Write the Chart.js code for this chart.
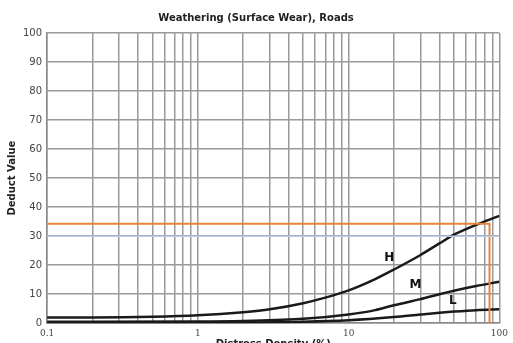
<!DOCTYPE html>
<html>
<head>
<meta charset="utf-8">
<script src="https://cdn.jsdelivr.net/npm/chart.js@4.4.1/dist/chart.umd.min.js"></script>
<style>
    html, body { margin: 0; padding: 0; background: #fff; }
    #wrap { width: 513px; height: 343px; }
</style>
</head>
<body>
<div id="wrap"><canvas id="chart" width="513" height="343"></canvas></div>
<script>
// Distress density (%) sample points and deduct values
const densityH = [0.1, 0.2, 0.5, 1, 2, 3, 5, 7, 10, 15, 20, 30, 40, 50, 60, 70, 80, 100];
const valuesH  = [2.0, 2.0, 2.2, 2.7, 3.8, 4.8, 6.9, 8.8, 11.3, 15.2, 18.5, 23.5, 27.5, 30.5, 32.4, 33.9, 35.1, 37.0];

const densityM = [0.1, 1, 2, 5, 10, 15, 20, 30, 40, 50, 70, 100];
const valuesM  = [0.5, 0.6, 0.8, 1.5, 3.0, 4.5, 6.2, 8.3, 10.0, 11.2, 12.8, 14.3];

const densityL = [0.1, 1, 5, 10, 20, 30, 40, 50, 70, 100];
const valuesL  = [0.0, 0.1, 0.5, 1.0, 2.1, 3.0, 3.6, 4.0, 4.5, 4.8];

// Reading lines (orange) and the faint blue reference line
const readDensity = 86;
const readValue = 34.3;
const blueValue = 30;

// Curve labels
const curveNames = ['H', 'M', 'L'];
const curveLabelX = [18.6, 27.8, 49];
const curveLabelY = [22.4, 13.1, 7.6];

// Axis ticks
const xTicks = [0.1, 0.2, 0.3, 0.4, 0.5, 0.6, 0.7, 0.8, 0.9, 1, 2, 3, 4, 5, 6, 7, 8, 9, 10, 20, 30, 40, 50, 60, 70, 80, 90, 100];
const xTickLabels = { 0.1: '0.1', 1: '1', 10: '10', 100: '100' };

const toPoints = (xs, ys) => xs.map((x, i) => ({ x, y: ys[i] }));

const curveLabels = {
    id: 'curveLabels',
    afterDatasetsDraw(chart) {
        const { ctx, scales: { x, y } } = chart;
        ctx.save();
        ctx.fillStyle = '#111';
        ctx.font = 'bold 12px "DejaVu Sans"';
        ctx.textAlign = 'center';
        ctx.textBaseline = 'middle';
        curveNames.forEach((n, i) => {
            ctx.fillText(n, x.getPixelForValue(curveLabelX[i]), y.getPixelForValue(curveLabelY[i]));
        });
        ctx.restore();
    }
};

const whiteBg = {
    id: 'whiteBg',
    beforeDraw(chart) {
        const { ctx } = chart;
        ctx.save();
        ctx.fillStyle = '#fff';
        ctx.fillRect(0, 0, chart.width, chart.height);
        ctx.restore();
    }
};

const line = (data, color, width) => ({
    data,
    borderColor: color,
    borderWidth: width,
    pointRadius: 0,
    fill: false,
    tension: 0.4,
    cubicInterpolationMode: 'monotone'
});

new Chart(document.getElementById('chart'), {
    type: 'line',
    data: {
        datasets: [
            { ...line([{ x: 0.1, y: blueValue }, { x: 100, y: blueValue }], '#b8cde6', 1.5), tension: 0 },
            { ...line([{ x: 0.1, y: readValue }, { x: readDensity, y: readValue }, { x: readDensity, y: 0 }], '#e8833a', 2), tension: 0 },
            line(toPoints(densityH, valuesH), '#1a1a1a', 2.5),
            line(toPoints(densityM, valuesM), '#1a1a1a', 2.5),
            line(toPoints(densityL, valuesL), '#1a1a1a', 2.5)
        ]
    },
    plugins: [whiteBg, curveLabels],
    options: {
        responsive: false,
        animation: false,
        layout: { padding: { left: 6, right: 7, top: 4, bottom: 0 } },
        plugins: {
            legend: { display: false },
            tooltip: { enabled: false },
            title: {
                display: true,
                text: 'Weathering (Surface Wear), Roads',
                color: '#222',
                font: { family: 'DejaVu Sans', size: 10, weight: 'bold' },
                padding: { top: 8, bottom: 9 }
            }
        },
        scales: {
            x: {
                type: 'logarithmic',
                min: 0.1,
                max: 100,
                afterBuildTicks: axis => { axis.ticks = xTicks.map(v => ({ value: v })); },
                ticks: {
                    autoSkip: false,
                    maxRotation: 0,
                    color: '#444',
                    font: { family: 'DejaVu Serif', size: 9 },
                    padding: 5,
                    callback: v => xTickLabels[v] || ''
                },
                grid: { color: '#9a9a9a', lineWidth: 1.5, drawTicks: false },
                border: { color: '#888', width: 1.5 },
                title: {
                    display: true,
                    text: 'Distress Density (%)',
                    color: '#222',
                    font: { family: 'DejaVu Sans', size: 10, weight: 'bold' },
                    padding: { top: -6, bottom: -7 }
                }
            },
            y: {
                min: 0,
                max: 100,
                ticks: {
                    stepSize: 10,
                    color: '#444',
                    font: { family: 'DejaVu Sans', size: 10 },
                    padding: 5
                },
                grid: { color: '#9a9a9a', lineWidth: 1.5, drawTicks: false },
                border: { color: '#888', width: 1.5 },
                title: {
                    display: true,
                    text: 'Deduct Value',
                    color: '#222',
                    font: { family: 'DejaVu Sans', size: 10, weight: 'bold' },
                    padding: { top: 0, bottom: 0 }
                }
            }
        }
    }
});
</script>
</body>
</html>
